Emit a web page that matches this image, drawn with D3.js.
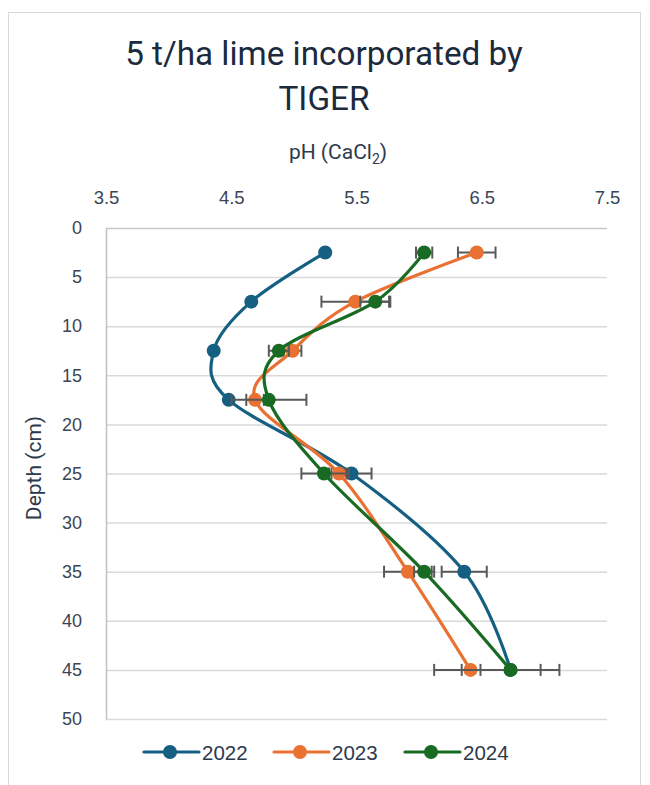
<!DOCTYPE html>
<html>
<head>
<meta charset="utf-8">
<script src="https://cdn.jsdelivr.net/npm/d3@7/dist/d3.min.js"></script>
<style>
  html, body { margin: 0; padding: 0; background: #ffffff; }
  svg { display: block; }
</style>
</head>
<body>
<svg id="chart" width="650" height="785"></svg>
<script>
// ---- data ----
const titleLines = ["5 t/ha lime incorporated by", "TIGER"];
const xTicks = [3.5, 4.5, 5.5, 6.5, 7.5];
const yTicks = [0, 5, 10, 15, 20, 25, 30, 35, 40, 45, 50];
const depths = [2.5, 7.5, 12.5, 17.5, 25, 35, 45];
const years = ["2022", "2023", "2024"];
const ph2022 = [5.25, 4.66, 4.36, 4.48, 5.46, 6.36, 6.73];
const ph2023 = [6.46, 5.49, 4.99, 4.69, 5.36, 5.91, 6.41];
const ph2024 = [6.04, 5.65, 4.88, 4.80, 5.24, 6.04, 6.73];
const err2022 = [0, 0, 0, 0, 0.16, 0.18, 0.24];
const err2023 = [0.15, 0.27, 0.07, 0.07, 0.08, 0.19, 0.29];
const err2024 = [0.065, 0.12, 0.08, 0.30, 0.18, 0.08, 0.39];
const colors = ["#156082", "#E97132", "#196B24"];

const seriesList = [
  { name: years[0], values: ph2022, errs: err2022, color: colors[0] },
  { name: years[1], values: ph2023, errs: err2023, color: colors[1] },
  { name: years[2], values: ph2024, errs: err2024, color: colors[2] }
];

const svg = d3.select("#chart");

// outer chart border
svg.append("rect")
  .attr("x", 8.5).attr("y", 12.5)
  .attr("width", 632).attr("height", 800)
  .attr("fill", "#ffffff")
  .attr("stroke", "#d9d9d9").attr("stroke-width", 1);

const x = d3.scaleLinear().domain([3.5, 7.5]).range([106, 607]);
const y = d3.scaleLinear().domain([0, 50]).range([228, 719]);

// title
const tColor = "#1b2a3d";
const title = svg.append("g");
const t1 = title.append("text")
  .attr("x", 324).attr("y", 65)
  .attr("text-anchor", "middle")
  .attr("font-family", "Roboto, 'Open Sans', sans-serif")
  .attr("font-size", 30)
  .attr("fill", tColor)
  .text(titleLines[0]);
// fit width to reference (~400px)
const w1 = t1.node().getComputedTextLength();
const fs = 30 * 398 / w1;
t1.attr("font-size", fs);
title.append("text")
  .attr("x", 324).attr("y", 110)
  .attr("text-anchor", "middle")
  .attr("font-family", "Roboto, 'Open Sans', sans-serif")
  .attr("font-size", fs)
  .attr("fill", tColor)
  .text(titleLines[1]);

// x axis title with subscript
const xt = svg.append("text")
  .attr("x", 338).attr("y", 159)
  .attr("text-anchor", "middle")
  .attr("font-family", "Roboto, 'Open Sans', sans-serif")
  .attr("font-size", 21)
  .attr("fill", "#2c3a4c");
xt.append("tspan").text("pH (CaCl");
xt.append("tspan").attr("font-size", 14).attr("dy", 5).text("2");
xt.append("tspan").attr("dy", -5).text(")");

// gridlines
svg.append("g")
  .selectAll("line")
  .data(yTicks)
  .join("line")
  .attr("x1", x(3.5)).attr("x2", x(7.5))
  .attr("y1", d => y(d) + 0.5).attr("y2", d => y(d) + 0.5)
  .attr("stroke", d => d === 0 ? "#c8c8c8" : "#d9d9d9")
  .attr("stroke-width", 1.5);

// top x axis (labels only)
const xAxis = svg.append("g")
  .attr("transform", `translate(0,${y(0)})`)
  .call(d3.axisTop(x).tickValues(xTicks).tickFormat(d3.format(".1f")).tickSize(0).tickPadding(24));
xAxis.select(".domain").remove();
xAxis.selectAll("text")
  .attr("font-family", "'Liberation Sans', Arial, sans-serif")
  .attr("font-size", 18.5)
  .attr("fill", "#3a4656");

// left y axis
const yAxis = svg.append("g")
  .attr("transform", `translate(${x(3.5)},0)`)
  .call(d3.axisLeft(y).tickValues(yTicks).tickSize(0).tickPadding(24));
yAxis.select(".domain")
  .attr("stroke", "#bfbfbf").attr("stroke-width", 1.5);
yAxis.selectAll("text")
  .attr("font-family", "'Liberation Sans', Arial, sans-serif")
  .attr("font-size", 18)
  .attr("fill", "#3a4656");

// y axis title
svg.append("text")
  .attr("transform", "translate(41,468) rotate(-90)")
  .attr("text-anchor", "middle")
  .attr("font-family", "Roboto, 'Open Sans', sans-serif")
  .attr("font-size", 21)
  .attr("fill", "#2c3a4c")
  .text("Depth (cm)");

// series
const line = d3.line()
  .x(d => x(d.v))
  .y(d => y(d.d))
  .curve(d3.curveCatmullRom.alpha(0));

seriesList.forEach(s => {
  const pts = depths.map((d, i) => ({ d: d, v: s.values[i], e: s.errs[i] }));
  const g = svg.append("g");
  // error bars
  const eb = g.append("g").attr("stroke", "#595959").attr("stroke-width", 2);
  pts.filter(p => p.e > 0).forEach(p => {
    eb.append("line")
      .attr("x1", x(p.v - p.e)).attr("x2", x(p.v + p.e))
      .attr("y1", y(p.d)).attr("y2", y(p.d));
    [p.v - p.e, p.v + p.e].forEach(v => {
      eb.append("line")
        .attr("x1", x(v)).attr("x2", x(v))
        .attr("y1", y(p.d) - 6).attr("y2", y(p.d) + 6);
    });
  });
  g.append("path")
    .datum(pts)
    .attr("d", line)
    .attr("fill", "none")
    .attr("stroke", s.color)
    .attr("stroke-width", 3.2)
    .attr("stroke-linejoin", "round");
  g.selectAll("circle")
    .data(pts)
    .join("circle")
    .attr("cx", p => x(p.v))
    .attr("cy", p => y(p.d))
    .attr("r", 7)
    .attr("fill", s.color);
});

// legend
const legendX = [144, 274, 405];
const legend = svg.append("g");
seriesList.forEach((s, i) => {
  const lx = legendX[i];
  const ly = 752;
  legend.append("line")
    .attr("x1", lx).attr("x2", lx + 55)
    .attr("y1", ly).attr("y2", ly)
    .attr("stroke", s.color).attr("stroke-width", 3.2)
    .attr("stroke-linecap", "round");
  legend.append("circle")
    .attr("cx", lx + 26).attr("cy", ly).attr("r", 7)
    .attr("fill", s.color);
  legend.append("text")
    .attr("x", lx + 58).attr("y", ly + 7.5)
    .attr("font-family", "'Liberation Sans', Arial, sans-serif")
    .attr("font-size", 20.5)
    .attr("fill", "#2c3a4c")
    .text(s.name);
});
</script>
</body>
</html>
